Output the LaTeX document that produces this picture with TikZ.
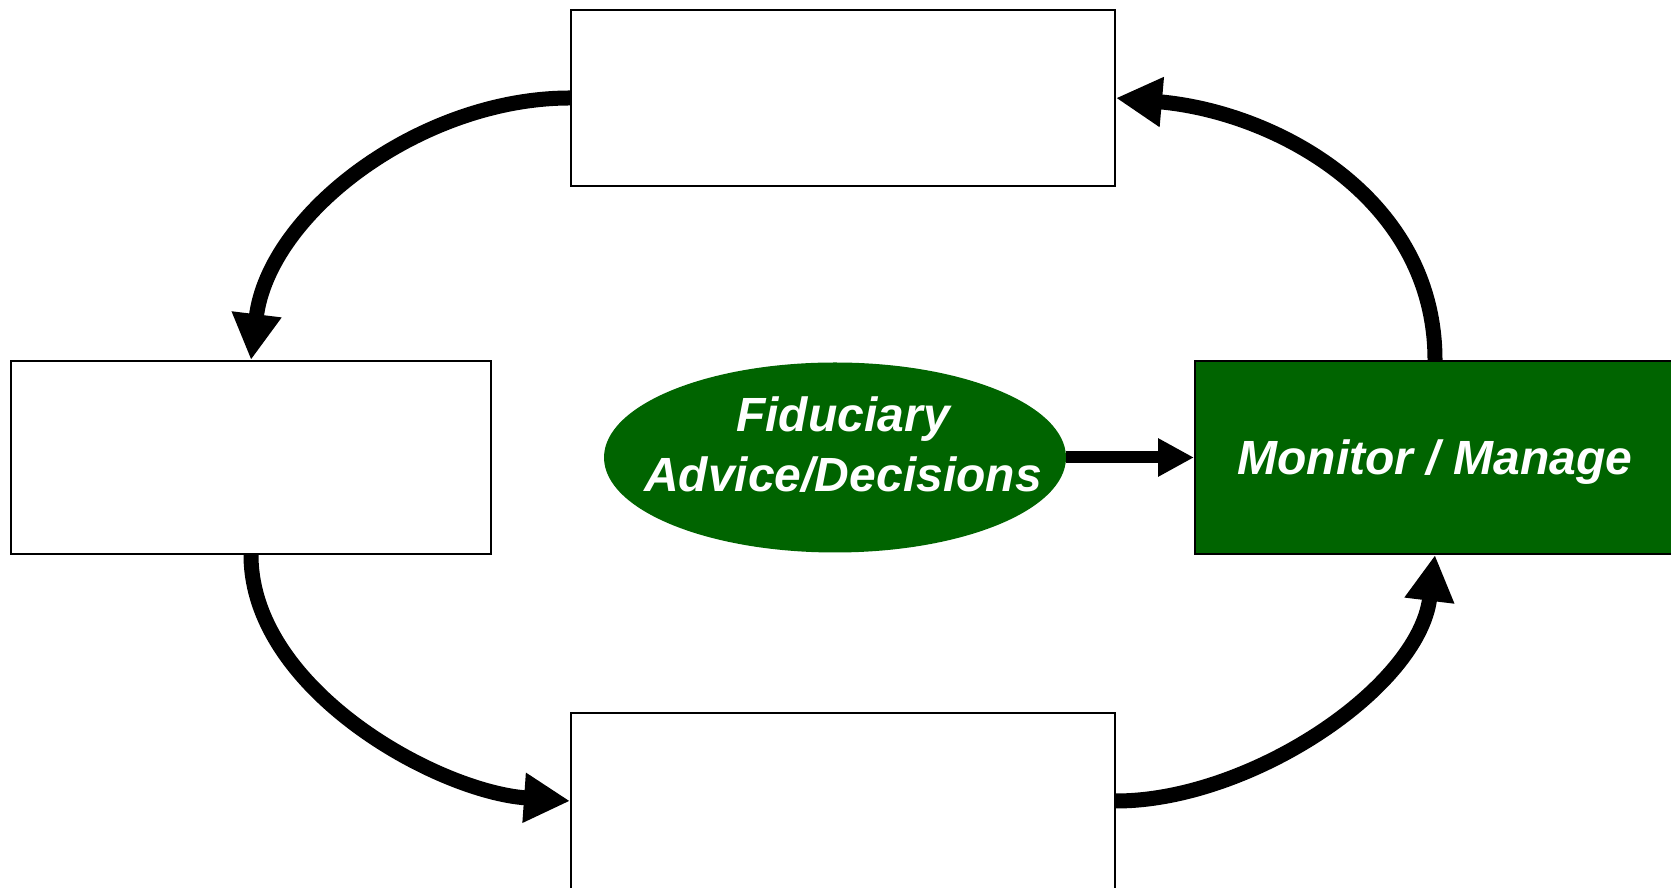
\documentclass[tikz,border=0pt]{standalone}
\usepackage{fontspec}
\setmainfont{Liberation Sans}
\usetikzlibrary{arrows.meta,shapes.geometric}
\definecolor{fidgreen}{RGB}{0,100,0}
\tikzset{
  stage/.style={draw=black, line width=1pt, fill=white, inner sep=0pt},
  widestage/.style={stage, minimum width=272pt, minimum height=88pt},
  sidestage/.style={stage, minimum width=240pt, minimum height=96.5pt},
  greentext/.style={text=white, align=center, inner sep=0pt, text depth=0pt,
    font=\fontsize{24}{30}\selectfont\bfseries\itshape},
  flow/.style={line width=7.5pt, -{Triangle[length=23pt,width=23.5pt]}}
}
\begin{document}
\begin{tikzpicture}[x=0.5pt,y=0.5pt]
            \useasboundingbox (0,0) rectangle (1671,888);
            % four stages round the cycle
            \node[widestage] (topbox) at (843,790) {};
            \node[sidestage] (leftbox) at (251,430.5) {};
            \node[widestage] (bottombox) at (843,87) {};
            \node[sidestage, fill=fidgreen, greentext] (monitor) at (1435,430.5) {Monitor / Manage};
            % the advice in the middle
            \node[ellipse, fill=fidgreen, minimum width=231pt, minimum height=95pt, inner sep=0pt] (advice) at (835,430.5) {};
            \node[greentext] (advicetext) at ([xshift=4pt,yshift=6.5pt]advice.center) {Fiduciary\\Advice/Decisions};
            \draw[line width=6pt, -{Triangle[length=18pt,width=18pt]}] (advice.east) -- (monitor.west);
            % curved arrows
            \foreach \a/\b/\o/\i/\l in {topbox.west/leftbox.north/180/83/0.92,
                                       leftbox.south/bottombox.west/-90/176/0.85,
                                       bottombox.east/monitor.south/0/-97/0.85,
                                       monitor.north/topbox.east/90/-5/1} {
              \draw[flow] (\a) to[out=\o, in=\i, looseness=\l] (\b);
            }
          \end{tikzpicture}
\end{document}
